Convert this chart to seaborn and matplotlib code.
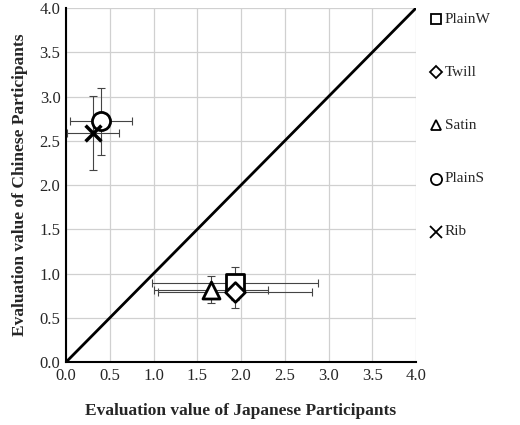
import numpy as np
import matplotlib.pyplot as plt
import seaborn as sns

# fabric samples, japanese (x) vs chinese (y) evaluation
names = ['PlainW', 'Twill', 'Satin', 'PlainS', 'Rib']
jp_mean = [1.93, 1.93, 1.66, 0.40, 0.31]
jp_err = [0.95, 0.88, 0.65, 0.35, 0.30]
cn_mean = [0.89, 0.79, 0.82, 2.72, 2.59]
cn_err = [0.19, 0.18, 0.15, 0.38, 0.42]
markers = ['s', 'D', '^', 'o', 'x']
sizes = [150, 100, 150, 170, 130]

sns.set_style("white")
plt.rcParams['font.family'] = ['Liberation Serif', 'DejaVu Serif']

fig = plt.figure(figsize=(5.2, 4.25), dpi=100)
ax = fig.add_axes([0.127, 0.148, 0.673, 0.833])

ax.grid(True, color='#d0d0d0', lw=0.9)
ax.set_axisbelow(True)
ax.plot([0, 4], [0, 4], color='black', lw=2, zorder=2)

for k in range(len(names)):
    ax.errorbar(jp_mean[k], cn_mean[k], xerr=jp_err[k], yerr=cn_err[k], fmt='none',
                ecolor='#444444', elinewidth=0.8, capsize=3, capthick=0.8, zorder=3,
                clip_on=False)
    if markers[k] == 'x':
        sns.scatterplot(x=[jp_mean[k]], y=[cn_mean[k]], marker='x', s=sizes[k], color='black',
                        linewidth=2.5, ax=ax, zorder=4)
    else:
        sns.scatterplot(x=[jp_mean[k]], y=[cn_mean[k]], marker=markers[k], s=sizes[k],
                        facecolor='white', edgecolor='black', linewidth=2, ax=ax, zorder=4)

ax.set_xlim(0, 4)
ax.set_ylim(0, 4)
ticks = np.arange(0, 4.01, 0.5)
ax.set_xticks(ticks)
ax.set_yticks(ticks)
ax.set_xticklabels(['%.1f' % v for v in ticks], fontsize=12)
ax.set_yticklabels(['%.1f' % v for v in ticks], fontsize=12)
for s in ['top', 'right']:
    ax.spines[s].set_visible(False)
for s in ['left', 'bottom']:
    ax.spines[s].set_linewidth(1.5)
    ax.spines[s].set_color('black')
ax.tick_params(length=0, pad=4)
ax.set_xlabel('Evaluation value of Japanese Participants', fontsize=12.5, fontweight='bold', labelpad=14)
ax.set_ylabel('Evaluation value of Chinese Participants', fontsize=12.5, fontweight='bold', labelpad=8)

leg_sizes = [7, 6, 7, 8, 8]
for k in range(len(names)):
    yy = 0.955 - k * 0.125
    fig.lines.append(plt.Line2D([0.838], [yy], marker=markers[k], ms=leg_sizes[k], mfc='white',
                                mec='black', mew=1.3, transform=fig.transFigure))
    fig.text(0.855, yy, names[k], fontsize=11, va='center', ha='left')

fig.savefig('out.png')
